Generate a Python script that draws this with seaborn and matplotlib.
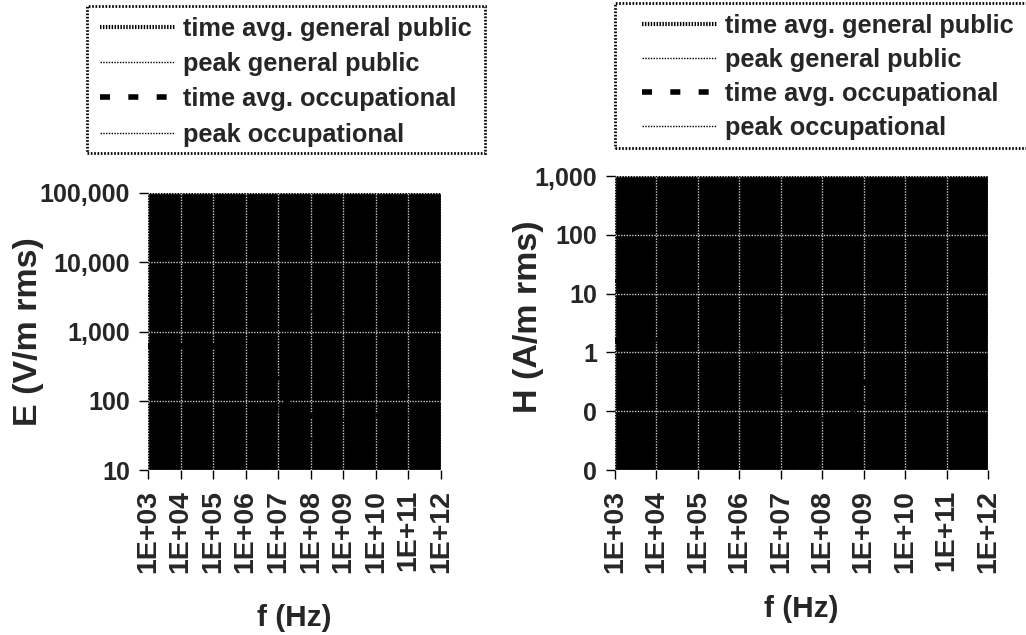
import math

import matplotlib
matplotlib.use("Agg")
import matplotlib.pyplot as plt
import matplotlib.ticker as mticker
import pandas as pd
import seaborn as sns
from matplotlib.lines import Line2D
from matplotlib.patches import Rectangle

# frequency break points (Hz)
FREQ = [1e3, 3e5, 1.34e6, 3e6, 3e7, 3e8, 1.5e9, 1e11]

# E field limits (V/m rms)
E_TA_GP = [614, 614, 614, 274, 27.5, 27.5, 61.4, 61.4]
E_PK_GP = [3300, 3300, 3300, 1500, 870, 870, 1940, 1940]
E_TA_OC = [614, 614, 614, 614, 61.4, 61.4, 137, 137]
E_PK_OC = [3300, 3300, 3300, 3300, 1940, 1940, 3000, 3000]

# H field limits (A/m rms)
H_TA_GP = [1.63, 1.63, 1.63, 0.73, 0.073, 0.073, 0.163, 0.163]
H_PK_GP = [16.3, 16.3, 16.3, 7.3, 0.73, 0.73, 1.63, 1.63]
H_TA_OC = [1.63, 1.63, 1.63, 1.63, 0.163, 0.163, 0.364, 0.364]
H_PK_OC = [16.3, 16.3, 16.3, 16.3, 1.63, 1.63, 8.0, 8.0]

LABELS = ["time avg. general public", "peak general public",
          "time avg. occupational", "peak occupational"]
X_TICKS = [1e3, 1e4, 1e5, 1e6, 1e7, 1e8, 1e9, 1e10, 1e11, 1e12]

STYLES = {
    "time avg. general public": dict(lw=3.0, ls=(0, (0.35, 0.35))),
    "peak general public": dict(lw=1.0, ls=(0, (1, 1))),
    "time avg. occupational": dict(lw=4.0, ls=(0, (1.8, 3.3))),
    "peak occupational": dict(lw=1.0, ls=(0, (1, 1))),
}

W, H = 1026, 635

sns.set_style("white")
plt.rcParams["font.family"] = ["Liberation Sans", "DejaVu Sans"]
plt.rcParams["font.weight"] = "bold"


def make_df(series):
    rows = []
    for lab, vals in zip(LABELS, series):
        for f, v in zip(FREQ, vals):
            rows.append({"f": f, "value": v, "limit": lab})
    return pd.DataFrame(rows)


def draw_panel(ax, df, ylim, yticks, ylabel, ylab_pos, xlab_pos):
    ax.set_facecolor("black")
    for lab in LABELS:
        sub = df[df["limit"] == lab]
        st = STYLES[lab]
        sns.lineplot(data=sub, x="f", y="value", ax=ax, color="black",
                     lw=st["lw"], linestyle=st["ls"], estimator=None,
                     sort=False, legend=False, zorder=3)
    ax.set_xscale("log")
    ax.set_yscale("log")
    ax.set_xlim(1e3, 1e12)
    ax.set_ylim(*ylim)
    ax.set_xticks(X_TICKS)
    ax.xaxis.set_major_formatter(
        mticker.FuncFormatter(lambda v, p: "1E+%02d" % round(math.log10(v))))
    ax.set_yticks(yticks)
    ax.yaxis.set_major_formatter(mticker.FuncFormatter(lambda v, p: f"{v:,.0f}"))
    ax.xaxis.set_minor_locator(mticker.NullLocator())
    ax.yaxis.set_minor_locator(mticker.NullLocator())
    ax.grid(True, color="#c8c8c8", lw=1.0, ls=(0, (1, 1)), zorder=1)
    ax.set_axisbelow(True)
    for s in ax.spines.values():
        s.set_visible(False)
    ax.tick_params(axis="both", which="major", direction="out", length=6.5,
                   width=1, color="black", left=True, bottom=True)
    ax.tick_params(axis="x", labelsize=20.5, labelrotation=90, pad=8)
    ax.tick_params(axis="y", labelsize=18, pad=6.5)
    for t in ax.get_xticklabels() + ax.get_yticklabels():
        t.set_fontweight("bold")
    ax.set_xlabel("f (Hz)", fontsize=21.5, fontweight="bold")
    ax.set_ylabel(ylabel, fontsize=24.5, fontweight="bold")
    ax.xaxis.set_label_coords(*xlab_pos)
    ax.yaxis.set_label_coords(*ylab_pos)


fig = plt.figure(figsize=(W / 100, H / 100), dpi=100)
ax1 = fig.add_axes([148 / W, 1 - 470 / H, 293 / W, 277 / H])
ax2 = fig.add_axes([615 / W, 1 - 470 / H, 373 / W, 294 / H])

draw_panel(ax1, make_df([E_TA_GP, E_PK_GP, E_TA_OC, E_PK_OC]),
           (10, 1e5), [10, 100, 1000, 10000, 100000], "E (V/m rms)",
           (-0.355, 0.5), (0.5, -0.484))
draw_panel(ax2, make_df([H_TA_GP, H_PK_GP, H_TA_OC, H_PK_OC]),
           (0.01, 1000), [0.01, 0.1, 1, 10, 100, 1000], "H (A/m rms)",
           (-0.19, 0.52), (0.5, -0.425))

handles = [Line2D([0], [0], color="black", lw=STYLES[l]["lw"], ls=STYLES[l]["ls"])
           for l in LABELS]

# (frame x0, y0, x1, y1, legend anchor x, y, row spacing) in pixels
LEGEND_BOXES = [(87, 6, 485, 153, 100, 17, 0.44), (615, 3, 1040, 148, 642, 14, 0.39)]

for fx0, fy0, fx1, fy1, lx, ly, sp in LEGEND_BOXES:
    fig.patches.append(Rectangle((fx0 / W, 1 - fy1 / H), (fx1 - fx0) / W,
                                 (fy1 - fy0) / H, transform=fig.transFigure,
                                 fill=False, edgecolor="black", lw=2.0,
                                 ls=(0, (0.6, 0.6)), zorder=5))
    fig.legend(handles, LABELS, loc="upper left",
               bbox_to_anchor=(lx / W, 1 - ly / H),
               borderaxespad=0, borderpad=0, frameon=False,
               prop={"size": 18.3, "weight": "bold"},
               handlelength=2.95, handletextpad=0.3, labelspacing=sp)

fig.savefig("out.png", dpi=100)
